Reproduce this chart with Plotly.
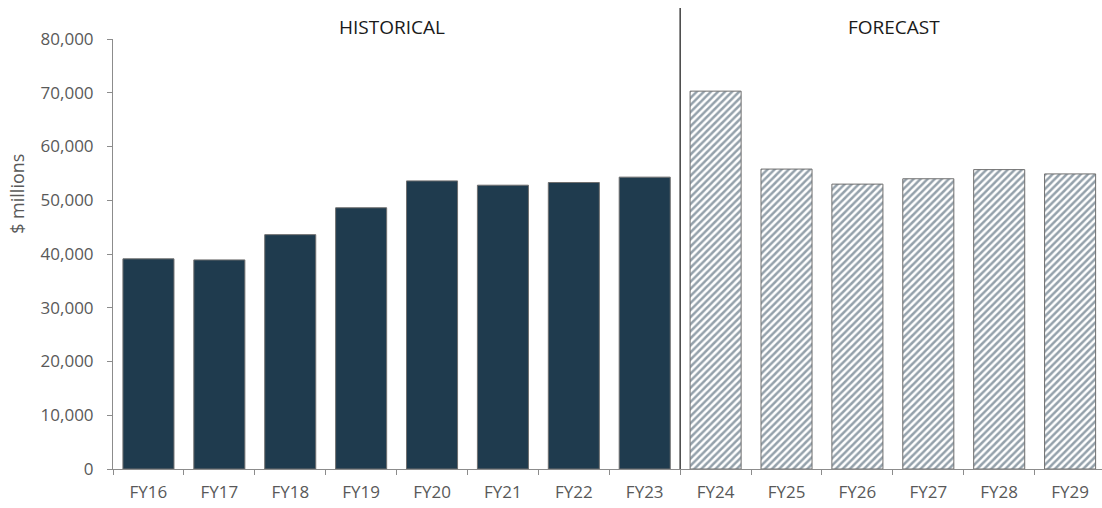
import plotly.graph_objects as go

# Annual totals, $ millions
hist_years = ["FY16", "FY17", "FY18", "FY19", "FY20", "FY21", "FY22", "FY23"]
hist_values = [39100, 38900, 43600, 48600, 53600, 52800, 53300, 54300]
fcst_years = ["FY24", "FY25", "FY26", "FY27", "FY28", "FY29"]
fcst_values = [70300, 55800, 53000, 54000, 55700, 54900]

y_ticks = [0, 10000, 20000, 30000, 40000, 50000, 60000, 70000, 80000]

font_family = "Open Sans"
tick_color = "#595959"
axis_color = "#8c8c8c"

fig = go.Figure()

fig.add_trace(go.Bar(
    x=hist_years, y=hist_values, name="Historical",
    width=0.72,
    marker=dict(color="#1f3b4e", line=dict(color="#6f6f6f", width=1)),
))

fig.add_trace(go.Bar(
    x=fcst_years, y=fcst_values, name="Forecast",
    width=0.72,
    marker=dict(
        color="white",
        line=dict(color="#6f6f6f", width=1),
        pattern=dict(shape="/", fgcolor="#2a4458", bgcolor="white",
                     size=5, solidity=0.5),
    ),
))

# Divider between historical and forecast periods
fig.add_shape(type="line", xref="x", yref="paper",
              x0=7.5, x1=7.5, y0=0, y1=1.072,
              line=dict(color="#404040", width=1.5))

fig.add_annotation(text="HISTORICAL", xref="x", yref="paper", x=3.43, y=1.028,
                   xanchor="center", yanchor="middle", showarrow=False,
                   font=dict(family=font_family, size=19, color="#1a1a1a"))
fig.add_annotation(text="FORECAST", xref="x", yref="paper", x=10.52, y=1.028,
                   xanchor="center", yanchor="middle", showarrow=False,
                   font=dict(family=font_family, size=19, color="#1a1a1a"))

fig.add_annotation(text="$ millions", xref="paper", yref="paper", x=-0.097, y=0.64,
                   xanchor="center", yanchor="middle", textangle=-90, showarrow=False,
                   font=dict(family=font_family, size=18, color=tick_color))

fig.update_layout(
    width=1102, height=508,
    margin=dict(l=113, r=0, t=39, b=39),
    plot_bgcolor="white", paper_bgcolor="white",
    barmode="overlay",
    showlegend=False,
    font=dict(family=font_family, size=17, color=tick_color),
)

fig.update_xaxes(
    categoryorder="array", categoryarray=hist_years + fcst_years,
    range=[-0.5, 13.45],
    showline=True, linecolor=axis_color, linewidth=1,
    ticks="outside", tickson="boundaries", ticklen=5, tickcolor=axis_color,
    ticklabelstandoff=8,
    showgrid=False, tickfont=dict(family=font_family, size=17, color=tick_color),
)

fig.update_yaxes(
    range=[0, 80000], tickvals=y_ticks, tickformat=",",
    showline=True, linecolor=axis_color, linewidth=1,
    ticks="outside", ticklen=5, tickcolor=axis_color,
    ticklabelstandoff=10,
    showgrid=False, zeroline=False,
    tickfont=dict(family=font_family, size=17, color=tick_color),
)

fig.write_html("out.html")
